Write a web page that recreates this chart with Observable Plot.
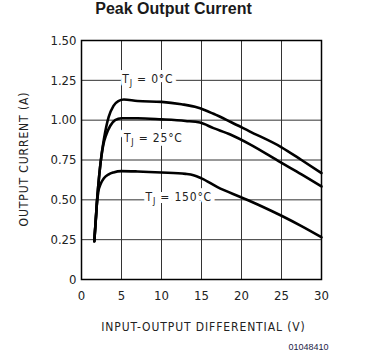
<!DOCTYPE html>
<html><head><meta charset="utf-8">
<script src="https://cdn.jsdelivr.net/npm/d3@7"></script>
<script src="https://cdn.jsdelivr.net/npm/@observablehq/plot@0.6"></script>
<style>
body{margin:0;background:#fff;}
#title{width:347px;height:30px;line-height:30px;text-align:center;font:bold 16px "Liberation Sans",Arial,sans-serif;color:#1a1a1a;}
</style></head><body>
<div id="title">Peak Output Current</div>
<div id="chart"></div>
<script>
// Tick values
const xTicks = [0, 5, 10, 15, 20, 25, 30];
const yTicks = [0, 0.25, 0.5, 0.75, 1, 1.25, 1.5];

// Series: junction temperatures
const temps = ["0°C", "25°C", "150°C"];

// TJ = 0°C
const volts0 = [1.6, 1.95, 2.4, 2.8, 3.1, 3.4, 4.0, 4.6, 5.3, 7, 10, 12.5, 14.5, 16.5, 18.6, 21, 25, 27.5, 30];
const amps0  = [0.24, 0.5, 0.74, 0.88, 0.96, 1.02, 1.09, 1.12, 1.13, 1.12, 1.115, 1.10, 1.08, 1.04, 0.99, 0.93, 0.83, 0.75, 0.668];

// TJ = 25°C
const volts25 = [1.6, 1.95, 2.4, 2.7, 3.1, 3.6, 4.2, 5, 7, 10, 13, 14.8, 16.5, 18.6, 21, 24.9, 27.5, 30];
const amps25  = [0.24, 0.5, 0.74, 0.84, 0.91, 0.965, 1.0, 1.012, 1.012, 1.005, 0.995, 0.985, 0.95, 0.91, 0.85, 0.735, 0.66, 0.584];

// TJ = 150°C
const volts150 = [1.6, 1.8, 1.95, 2.1, 2.4, 2.8, 3.4, 4, 5, 7, 10, 13, 14, 15, 17, 20, 22.5, 25, 27.5, 30];
const amps150  = [0.24, 0.38, 0.49, 0.55, 0.60, 0.635, 0.66, 0.672, 0.68, 0.678, 0.672, 0.663, 0.655, 0.635, 0.58, 0.515, 0.46, 0.40, 0.335, 0.265];

// Curve label anchors (data units)
const labelVolts = [5.1, 5.3, 8.0];
const labelAmps  = [1.235, 0.86, 0.49];

const series = [[volts0, amps0], [volts25, amps25], [volts150, amps150]];
const rows = series.flatMap(([vs, is], k) => vs.map((v, j) => ({temp: temps[k], v, i: is[j]})));
const labels = temps.map((t, k) => ({temp: t, v: labelVolts[k], i: labelAmps[k]}));

const FONT = '"DejaVu Sans Condensed", "Liberation Sans", Arial, sans-serif';

const plot = Plot.plot({
  width: 376,
  height: 333,
  marginLeft: 81,
  marginRight: 55,
  marginTop: 10,
  marginBottom: 84,
  style: {fontFamily: FONT, fontSize: "13px", color: "#222", background: "#fff"},
  x: {domain: [0, 30], ticks: xTicks},
  y: {domain: [0, 1.5], ticks: yTicks},
  marks: [
    Plot.gridX(xTicks, {stroke: "#333", strokeOpacity: 1, strokeWidth: 1}),
    Plot.gridY(yTicks, {stroke: "#333", strokeOpacity: 1, strokeWidth: 1}),
    Plot.axisX(xTicks, {tickSize: 0, tickPadding: 11, label: null, fontSize: 13, fill: "#222"}),
    Plot.axisY(yTicks, {tickSize: 0, tickPadding: 5, label: null, fontSize: 13, fill: "#222",
      tickFormat: d => d === 0 ? "0" : d.toFixed(2)}),
    Plot.text(labels, {x: "v", y: "i", text: d => "TJ = " + d.temp, textAnchor: "start", lineAnchor: "bottom",
      fontSize: 12, fill: "#222", stroke: "white", strokeWidth: 8, paintOrder: "stroke"}),
    Plot.frame({stroke: "#000", strokeWidth: 1.5}),
    Plot.line(rows, {x: "v", y: "i", z: "temp", curve: "monotone-x", stroke: "#000", strokeWidth: 2.6, strokeLinejoin: "round"}),
    Plot.text(["INPUT-OUTPUT DIFFERENTIAL (V)"], {frameAnchor: "bottom", dx: 2, dy: 48, lineAnchor: "middle", textAnchor: "middle", fontSize: 12, fill: "#222"}),
    Plot.text(["OUTPUT CURRENT (A)"], {frameAnchor: "left", dx: -57, dy: -1, rotate: -90, lineAnchor: "middle", textAnchor: "middle", fontSize: 12, fill: "#222"}),
    Plot.text(["01048410"], {frameAnchor: "bottom-right", dx: 7, dy: 68, textAnchor: "end", lineAnchor: "middle", fontSize: 9, fill: "#1c1c48", fontFamily: '"Liberation Sans", Arial, sans-serif'})
  ]
});

const svg = d3.select(plot);
// Letter spacing for axis titles
svg.selectAll("text").filter(function() {
  const t = this.textContent;
  return t === "INPUT-OUTPUT DIFFERENTIAL (V)" || t === "OUTPUT CURRENT (A)";
}).attr("letter-spacing", 0.9);

// Subscript J in the curve labels
svg.selectAll("text").filter(function() { return this.textContent.startsWith("TJ = "); }).each(function() {
  const s = d3.select(this);
  const rest = this.textContent.slice(2);
  s.text(null);
  s.attr("letter-spacing", 0.8);
  s.append("tspan").text("T");
  s.append("tspan").attr("dy", 3).attr("font-size", 9).text("J");
  s.append("tspan").attr("dy", -3).text(rest);
});

document.getElementById("chart").appendChild(plot);
</script>
</body></html>
